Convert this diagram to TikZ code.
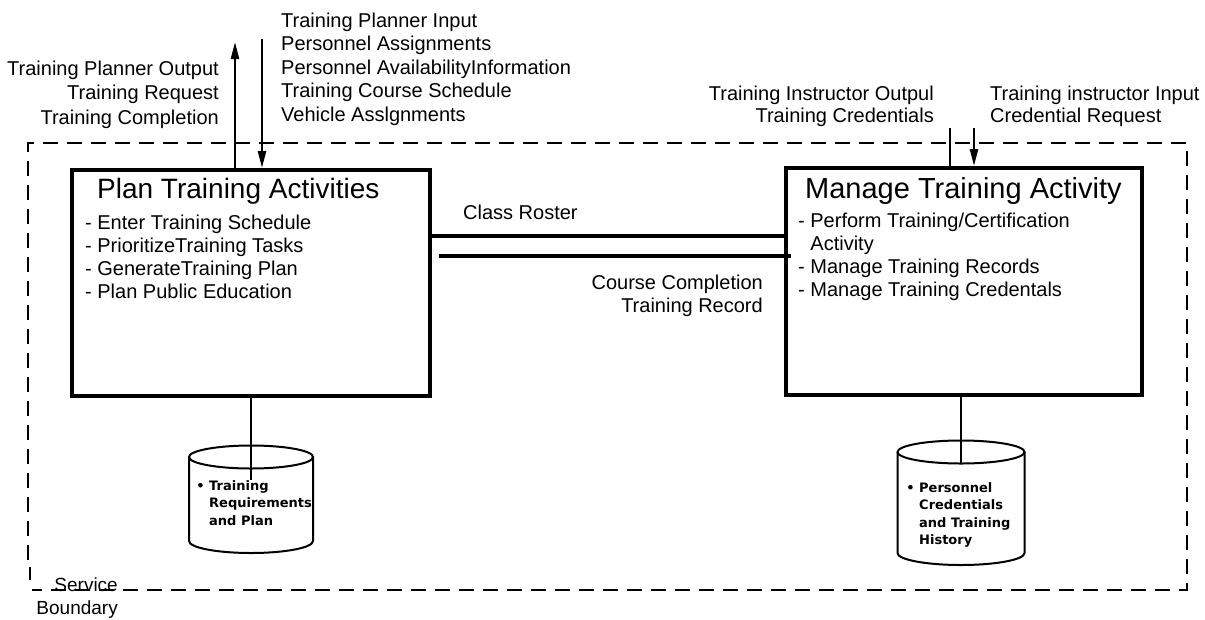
\documentclass[tikz,border=0pt]{standalone}
\usepackage{fontspec}
\setmainfont{Liberation Sans}
\newfontfamily\storefont{DejaVu Sans}
\usetikzlibrary{arrows.meta, positioning}

\begin{document}
\begin{tikzpicture}[x=1pt, y=-1pt,
                process box/.style={draw=black, line width=4pt, inner sep=0pt},
                title text/.style={font=\fontsize{28}{32}\selectfont, anchor=base west, inner sep=0pt},
                item text/.style={font=\fontsize{20}{23}\selectfont, align=left, anchor=north west, inner sep=0pt},
                flow text/.style={font=\fontsize{20}{23.5}\selectfont, inner sep=0pt},
                store text/.style={font=\storefont\bfseries\fontsize{13}{17.6}\selectfont, align=left, anchor=north west, inner sep=0pt},
                flow/.style={line width=2.4pt, -{Triangle[length=17pt, width=8pt]}},
                link/.style={line width=4pt},
                store/.style={line width=2pt},
                boundary/.style={line width=2.4pt, dash pattern=on 15pt off 9pt}
]
        \useasboundingbox (0,0) rectangle (1205,619);

    % Service boundary
        \draw[boundary] (28,560) -- (28,143) -- (1187,143) -- (1187,590) -- (32,590);
        \draw[line width=1.2pt] (30,567) -- (30,580);
        \node[flow text, align=right, anchor=north east, font=\fontsize{19}{23}\selectfont] (svc) at (118,578) {Service\\Boundary};

    % Plan box
        \node[process box, minimum width=358pt, minimum height=226pt] (plan) at (251,283) {};
        \node[title text] (planTitle) at ([shift={(27,30)}]plan.north west) {Plan Training Activities};
        \node[item text] (planItems) at ([shift={(15,47)}]plan.north west) {- Enter Training Schedule\\- PrioritizeTraining Tasks\\- GenerateTraining Plan\\- Plan Public Education};

    % Manage box
        \node[process box, minimum width=356pt, minimum height=227pt] (manage) at (964,281.5) {};
        \node[title text, font=\fontsize{29}{32}\selectfont] (manageTitle) at ([shift={(21,32)}]manage.north west) {Manage Training Activity};
        \node[item text] (manageItems) at ([shift={(14,46.5)}]manage.north west) {- Perform Training/Certification\\\hphantom{- }Activity\\- Manage Training Records\\- Manage Training Credentals};

    % Planner flows
        \coordinate (planOut) at (235,42);
        \coordinate (planIn) at (262,39);
        \draw[flow] (planOut |- plan.north) -- (planOut);
        \draw[flow] (planIn) -- (planIn |- plan.north);
        \node[flow text, align=right, anchor=north east, font=\fontsize{20}{24.5}\selectfont] (planOutText) at (219,60.4) {Training Planner Output\\Training Request\\Training Completion};
        \node[flow text, align=left, anchor=north west] (planInText) at (281,12.4) {Training Planner Input\\Personnel Assignments\\Personnel AvailabilityInformation\\Training Course Schedule\\Vehicle Asslgnments};

    % Instructor flows
        \coordinate (mgrOut) at (950,128);
        \coordinate (mgrIn) at (974,128);
        \draw[line width=2.4pt] (mgrOut |- manage.north) -- (mgrOut);
        \draw[flow] (mgrIn) -- (mgrIn |- manage.north);
        \node[flow text, align=right, anchor=north east, font=\fontsize{20}{22}\selectfont] (mgrOutText) at (934,85.4) {Training Instructor Outpul\\Training Credentials};
        \node[flow text, align=left, anchor=north west, font=\fontsize{20}{22}\selectfont] (mgrInText) at (990,85.4) {Training instructor Input\\Credential Request};

    % Links between the boxes
        \coordinate (rosterY) at (0,236);
        \coordinate (recordY) at (0,256);
        \draw[link] (plan.east |- rosterY) -- (manage.west |- rosterY);
        \draw[link] ([xshift=7pt]plan.east |- recordY) -- ([xshift=7pt]manage.west |- recordY);
        \node[flow text, anchor=base west] (roster) at (463,219) {Class Roster};
        \node[flow text, align=right, anchor=north east, font=\fontsize{20}{23}\selectfont] (record) at (763,274.4) {Course Completion\\Training Record};

    % Data stores
        \draw[store] (251,457) ellipse [x radius=62, y radius=11.5];
        \draw[store] (189,457) -- (189,541) arc [start angle=180, end angle=0, x radius=62, y radius=12] -- (313,457);
        \coordinate (trqTop) at (251,480);
        \draw[store] (plan.south -| trqTop) -- (trqTop);
        \node[store text] (trqText) at (209,480) {\llap{\textbullet\ }Training\\Requirements\\and Plan};

        \draw[store] (961,452) ellipse [x radius=63.5, y radius=11.5];
        \draw[store] (897.5,452) -- (897.5,553) arc [start angle=180, end angle=0, x radius=63.5, y radius=12] -- (1024.5,452);
        \coordinate (pctTop) at (961,464);
        \draw[store] (manage.south -| pctTop) -- (pctTop);
        \node[store text] (pctText) at (919,482) {\llap{\textbullet\ }Personnel\\Credentials\\and Training\\History};
\end{tikzpicture}
\end{document}
